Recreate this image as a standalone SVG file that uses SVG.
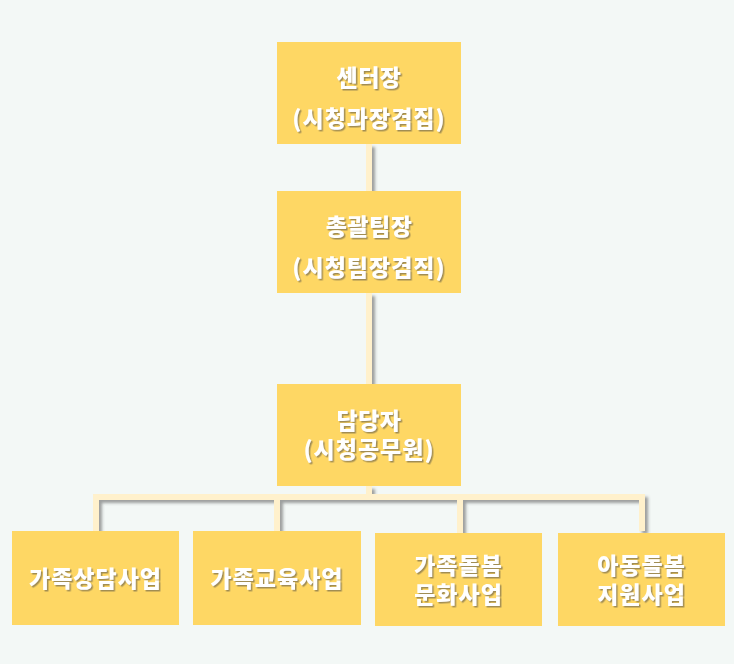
<svg xmlns="http://www.w3.org/2000/svg" width="734" height="664" viewBox="0 0 734 664">
<defs>
<filter id="ts" x="-10%" y="-30%" width="130%" height="160%">
<feDropShadow dx="1.5" dy="1.5" stdDeviation="0.6" flood-color="#8a7a50" flood-opacity="0.8"/>
</filter>
<filter id="ls" x="-5%" y="-5%" width="110%" height="110%">
<feDropShadow dx="3" dy="3" stdDeviation="1.5" flood-color="#555" flood-opacity="0.55"/>
</filter>
</defs>
<style>
.box{fill:#FED764;}
.t{font-family:"Noto Sans CJK KR","Noto Sans",sans-serif;font-weight:800;font-size:23px;fill:#ffffff;text-anchor:middle;filter:url(#ts);}
.c{fill:none;stroke:#FFF1CC;stroke-width:6;stroke-linejoin:miter;}
</style>
<rect width="734" height="664" fill="#F3F8F6"/>
<g id="connectors" filter="url(#ls)">
<path class="c" d="M369 144V191"/>
<path class="c" d="M369 293V384"/>
<path class="c" d="M369 486V497"/>
<path class="c" d="M96 531V497H642V531"/>
<path class="c" d="M277 497V531"/>
<path class="c" d="M460 497V533"/>
</g>
<g id="n1"><rect class="box" x="277" y="42" width="184" height="102"/><text class="t" x="369" y="86" letter-spacing="0.5">센터장</text><text class="t" x="369" y="127" letter-spacing="1">(시청과장겸집)</text></g>
<g id="n2"><rect class="box" x="277" y="191" width="184" height="102"/><text class="t" x="369" y="235" letter-spacing="0.5">총괄팀장</text><text class="t" x="369" y="276" letter-spacing="1">(시청팀장겸직)</text></g>
<g id="n3"><rect class="box" x="277" y="384" width="184" height="102"/><text class="t" x="369" y="428.5" letter-spacing="0.5">담당자</text><text class="t" x="369" y="457.5" letter-spacing="1">(시청공무원)</text></g>
<g id="n4"><rect class="box" x="12" y="531" width="167" height="94"/><text class="t" x="95.5" y="587" letter-spacing="1">가족상담사업</text></g>
<g id="n5"><rect class="box" x="193" y="531" width="168" height="94"/><text class="t" x="277" y="587" letter-spacing="1">가족교육사업</text></g>
<g id="n6"><rect class="box" x="375" y="533" width="167" height="93"/><text class="t" x="458.5" y="573.5" letter-spacing="1">가족돌봄</text><text class="t" x="458.5" y="602.5" letter-spacing="1">문화사업</text></g>
<g id="n7"><rect class="box" x="558" y="533" width="167" height="93"/><text class="t" x="641.5" y="573.5" letter-spacing="1">아동돌봄</text><text class="t" x="641.5" y="602.5" letter-spacing="1">지원사업</text></g>
</svg>
